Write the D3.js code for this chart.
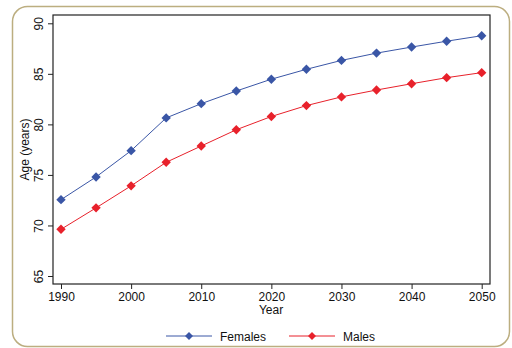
<!DOCTYPE html>
<html>
<head>
<meta charset="utf-8">
<script src="https://cdn.jsdelivr.net/npm/d3@7"></script>
<style>
  body { margin: 0; background: #fff; }
  svg { font-family: "Liberation Sans", Arial, sans-serif; }
</style>
</head>
<body>
<div id="chart"></div>
<script>
// data
var years = [1990, 1995, 2000, 2005, 2010, 2015, 2020, 2025, 2030, 2035, 2040, 2045, 2050];
var females = [72.55, 74.8, 77.4, 80.64, 82.05, 83.3, 84.47, 85.45, 86.33, 87.05, 87.65, 88.23, 88.77];
var males = [69.62, 71.74, 73.92, 76.25, 77.86, 79.47, 80.78, 81.86, 82.72, 83.4, 84.02, 84.62, 85.12];
var xTicks = [1990, 2000, 2010, 2020, 2030, 2040, 2050];
var yTicks = [65, 70, 75, 80, 85, 90];

var series = [
	{ name: "Females", values: females, color: "#3a56a6" },
	{ name: "Males", values: males, color: "#e8212b" }
];

var W = 512, H = 348;
var svg = d3.select("#chart").append("svg")
	.attr("width", W)
	.attr("height", H);

// outer rounded frame
svg.append("rect")
	.attr("x", 12.5).attr("y", 6.5)
	.attr("width", 497).attr("height", 340)
	.attr("rx", 15).attr("ry", 15)
	.style("fill", "none")
	.style("stroke", "#bcae80")
	.style("stroke-width", 1.5);

var plot = { left: 53, top: 15, right: 490, bottom: 284 };

var x = d3.scaleLinear().domain([1990, 2050]).range([61, 481.7]);
var y = d3.scaleLinear().domain([65, 90]).range([276, 23.3]);

// plot box
svg.append("rect")
	.attr("x", plot.left).attr("y", plot.top)
	.attr("width", plot.right - plot.left)
	.attr("height", plot.bottom - plot.top)
	.style("fill", "none")
	.style("stroke", "#222")
	.style("stroke-width", 1.2);

// x axis
var xAxis = svg.append("g")
	.attr("transform", "translate(0," + plot.bottom + ")")
	.call(d3.axisBottom(x).tickValues(xTicks).tickFormat(d3.format("d")).tickSize(5).tickPadding(3));
xAxis.select(".domain").remove();
xAxis.selectAll("line").style("stroke", "#222");
xAxis.selectAll("text").style("font-size", "12px").style("fill", "#111");

// y axis, rotated labels
var yAxis = svg.append("g")
	.attr("transform", "translate(" + plot.left + ",0)")
	.call(d3.axisLeft(y).tickValues(yTicks).tickSize(5));
yAxis.select(".domain").remove();
yAxis.selectAll("line").style("stroke", "#222");
yAxis.selectAll("text")
	.attr("x", null).attr("dy", null)
	.attr("transform", "translate(-10,0) rotate(-90)")
	.attr("text-anchor", "middle")
	.style("font-size", "12px")
	.style("fill", "#111");

// axis titles
svg.append("text")
	.attr("x", 271).attr("y", 314)
	.attr("text-anchor", "middle")
	.style("font-size", "12px").style("fill", "#111")
	.text("Year");

svg.append("text")
	.attr("transform", "translate(29," + ((plot.top + plot.bottom) / 2) + ") rotate(-90)")
	.attr("text-anchor", "middle")
	.style("font-size", "12px").style("fill", "#111")
	.text("Age (years)");

var line = d3.line()
	.x(function(d, i) { return x(years[i]); })
	.y(function(d) { return y(d); });

series.forEach(function(s) {
	svg.append("path")
		.datum(s.values)
		.attr("d", line)
		.style("fill", "none")
		.style("stroke", s.color)
		.style("stroke-width", 1);

	svg.selectAll(".pt-" + s.name)
		.data(s.values)
		.enter().append("path")
		.attr("class", "pt-" + s.name)
		.attr("transform", function(d, i) { return "translate(" + x(years[i]) + "," + y(d) + ") rotate(45)"; })
		.attr("d", d3.symbol().type(d3.symbolSquare).size(44))
		.style("fill", s.color);
});

// legend
var legend = svg.append("g").attr("transform", "translate(166,336)");
var lx = [0, 123];
series.forEach(function(s, i) {
	var g = legend.append("g").attr("transform", "translate(" + lx[i] + ",0)");
	g.append("line")
		.attr("x1", 0).attr("x2", 46)
		.style("stroke", s.color).style("stroke-width", 1);
	g.append("path")
		.attr("transform", "translate(23,0) rotate(45)")
		.attr("d", d3.symbol().type(d3.symbolSquare).size(32))
		.style("fill", s.color);
	g.append("text")
		.attr("x", 54).attr("y", 4.5)
		.style("font-size", "12px").style("fill", "#111")
		.text(s.name);
});
</script>
</body>
</html>
